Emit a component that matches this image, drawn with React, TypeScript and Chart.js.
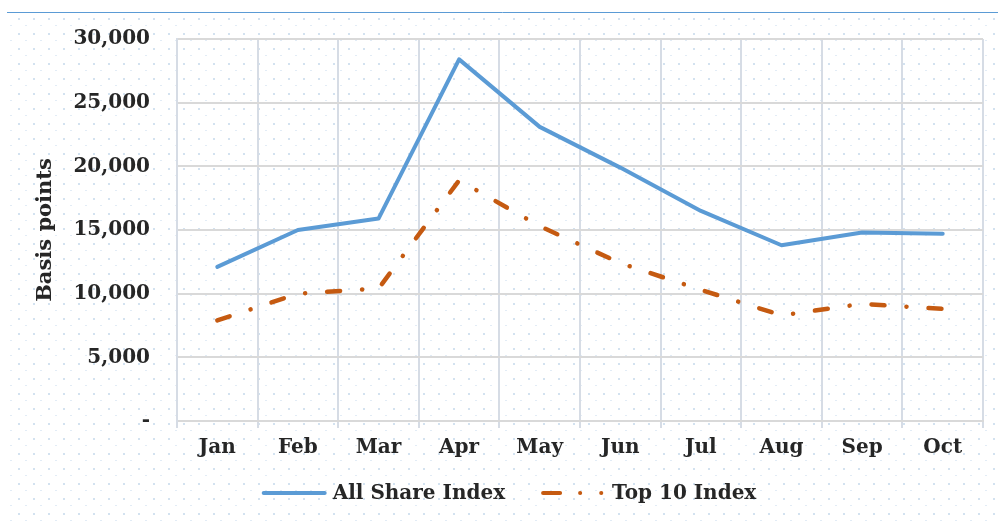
import React, { useEffect, useRef } from "react";
import { Chart, registerables } from "chart.js";

Chart.register(...registerables);

const months = ["Jan", "Feb", "Mar", "Apr", "May", "Jun", "Jul", "Aug", "Sep", "Oct"];
const allShareIndex = [12100, 15000, 15900, 28400, 23100, 19900, 16500, 13800, 14800, 14700];
const top10Index = [7900, 10000, 10400, 18900, 15300, 12400, 10300, 8300, 9200, 8800];
const yTicks = [0, 5000, 10000, 15000, 20000, 25000, 30000];

const FONT = "'DejaVu Serif', serif";
const TOP10_DASH = [13, 22, 0.1, 22];
const TOP10_LEGEND_DASH = [17, 20, 0.1, 21, 0.1, 200];

const bgPlugin = {
  id: "bgPattern",
  beforeDraw(chart: any) {
    const { ctx, width, height } = chart;
    const tile = document.createElement("canvas");
    tile.width = 15;
    tile.height = 15;
    const t = tile.getContext("2d")!;
    t.fillStyle = "#d3e2f0";
    t.fillRect(3, 3, 2, 2);
    t.fillStyle = "#e2ecf6";
    t.fillRect(10, 10, 2, 1);
    const pat = ctx.createPattern(tile, "repeat");
    ctx.save();
    ctx.fillStyle = "#ffffff";
    ctx.fillRect(0, 0, width, height);
    ctx.fillStyle = pat;
    ctx.fillRect(7, 12, width - 7, height - 12);
    ctx.strokeStyle = "#5b9bd5";
    ctx.lineWidth = 1;
    ctx.beginPath();
    ctx.moveTo(7, 12.5);
    ctx.lineTo(width, 12.5);
    ctx.stroke();
    ctx.restore();
  },
};

const legendPlugin = {
  id: "lineLegend",
  afterDraw(chart: any) {
    const { ctx } = chart;
    const ds = chart.data.datasets;
    ctx.save();
    ctx.font = `bold 20px ${FONT}`;
    ctx.textBaseline = "middle";
    ctx.textAlign = "left";
    const lineW = 65;
    const gapText = 6;
    const gapItem = 36;
    const widths = ds.map((d: any) => ctx.measureText(d.label).width);
    let total = 0;
    widths.forEach((w: number, i: number) => {
      total += lineW + gapText + w + (i > 0 ? gapItem : 0);
    });
    let x = 509 - total / 2;
    const y = 493;
    ds.forEach((d: any, i: number) => {
      ctx.strokeStyle = d.borderColor;
      ctx.lineWidth = 4;
      ctx.lineCap = "round";
      ctx.setLineDash(d.borderDash ? TOP10_LEGEND_DASH : []);
      ctx.beginPath();
      ctx.moveTo(x + 2, y);
      ctx.lineTo(x + lineW - 2, y);
      ctx.stroke();
      ctx.setLineDash([]);
      ctx.fillStyle = "#262626";
      ctx.fillText(d.label, x + lineW + gapText, y + 1);
      x += lineW + gapText + widths[i] + gapItem;
    });
    ctx.restore();
  },
};

export default function App() {
  const ref = useRef<HTMLCanvasElement>(null);
  useEffect(() => {
    const chart = new Chart(ref.current!, {
      type: "line",
      data: {
        labels: months,
        datasets: [
          {
            label: "All Share Index",
            data: allShareIndex,
            borderColor: "#5b9bd5",
            backgroundColor: "#5b9bd5",
            borderWidth: 4,
            pointRadius: 0,
            borderCapStyle: "round",
            borderJoinStyle: "round",
            tension: 0,
          },
          {
            label: "Top 10 Index",
            data: top10Index,
            borderColor: "#c55a11",
            backgroundColor: "#c55a11",
            borderWidth: 4.5,
            pointRadius: 0,
            borderDash: TOP10_DASH,
            borderCapStyle: "round",
            borderJoinStyle: "round",
            tension: 0,
          },
        ],
      },
      plugins: [bgPlugin, legendPlugin],
      options: {
        animation: false,
        responsive: true,
        maintainAspectRatio: false,
        layout: { padding: { left: 0, right: 15, top: 38, bottom: 50 } },
        plugins: {
          tooltip: { enabled: false },
          legend: { display: false },
        },
        scales: {
          x: {
            offset: true,
            grid: {
              offset: true,
              color: "#d6dce5",
              lineWidth: 2,
              tickLength: 7,
              drawTicks: true,
            },
            border: { color: "#d9d9d9", width: 2 },
            ticks: {
              color: "#262626",
              font: { family: FONT, size: 20, weight: "bold" },
              padding: 8,
              maxRotation: 0,
            },
            afterFit(scale: any) {
              scale.height = 50;
            },
          },
          y: {
            min: 0,
            max: 30000,
            afterBuildTicks(scale: any) {
              scale.ticks = yTicks.map((v) => ({ value: v }));
            },
            grid: { color: "#d9d9d9", lineWidth: 2, drawTicks: false },
            border: { color: "#d6dce5", width: 2 },
            ticks: {
              color: "#262626",
              font: { family: FONT, size: 20, weight: "bold" },
              padding: 27,
              callback: (v: any) => (Number(v) === 0 ? "-" : Number(v).toLocaleString("en-US")),
            },
            title: {
              display: true,
              text: "Basis points",
              color: "#262626",
              font: { family: FONT, size: 21, weight: "bold" },
              padding: { top: 33, bottom: 0 },
            },
            afterFit(scale: any) {
              scale.width = 177;
            },
          },
        },
      },
    });
    return () => chart.destroy();
  }, []);
  return (
    <div style={{ position: "fixed", left: 0, top: 0, width: 998, height: 521 }}>
      <canvas ref={ref} />
    </div>
  );
}
